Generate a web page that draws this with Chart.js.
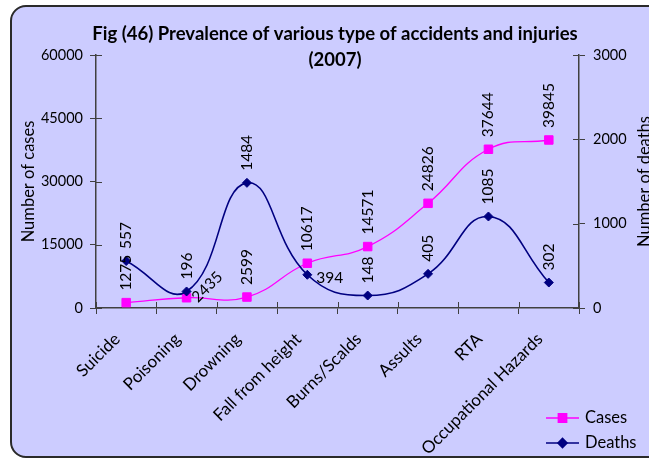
<!DOCTYPE html>
<html>
<head>
<meta charset="utf-8">
<script src="https://cdn.jsdelivr.net/npm/chart.js@4.4.0/dist/chart.umd.min.js"></script>
<style>
  html, body { margin: 0; padding: 0; overflow: hidden; background: #fff; }
  #wrap { position: relative; width: 649px; height: 459px; overflow: hidden; }
  #frame {
    position: absolute; left: 10px; top: 5px; width: 720px; height: 453px;
    box-sizing: border-box; border: 2px solid #2a2a2a; border-radius: 16px;
    background: #ccccff;
  }
  #trendChart { position: absolute; left: 0; top: 0; }
</style>
</head>
<body>
<div id="wrap">
  <div id="frame"></div>
  <canvas id="trendChart" width="649" height="459"></canvas>
</div>
<script>
  const categories = ['Suicide', 'Poisoning', 'Drowning', 'Fall from height', 'Burns/Scalds', 'Assults', 'RTA', 'Occupational Hazards'];
  const cases = [1275, 2435, 2599, 10617, 14571, 24826, 37644, 39845];
  const deaths = [557, 196, 1484, 394, 148, 405, 1085, 302];
  const caseTicks = [0, 15000, 30000, 45000, 60000];
  const deathTicks = [0, 1000, 2000, 3000];

  const FONT = 'Lato, "Open Sans", sans-serif';
  const AXIS = '#404040';

  // label placement per point: rotation in degrees, offset from the marker
  const labelPos = {
    0: [{}, {rot: -45, dx: 8, dy: 2}, {}, {}, {}, {}, {}, {}],
    1: [{}, {}, {}, {rot: 0, dx: 9, dy: 3}, {}, {}, {}, {}]
  };

  const decor = {
    id: 'decor',
    beforeDatasetsDraw(chart) {
      // Excel style cross ticks: draw the inner half of every tick mark
      const {ctx, chartArea: a} = chart;
      const sx = chart.scales.x, sy = chart.scales.y, sy1 = chart.scales.y1;
      ctx.save();
      ctx.strokeStyle = AXIS;
      ctx.lineWidth = 1;
      ctx.beginPath();
      caseTicks.forEach(v => { const y = Math.round(sy.getPixelForValue(v)) + 0.5; ctx.moveTo(a.left, y); ctx.lineTo(a.left + 6, y); });
      deathTicks.forEach(v => { const y = Math.round(sy1.getPixelForValue(v)) + 0.5; ctx.moveTo(a.right, y); ctx.lineTo(a.right - 6, y); });
      for (let i = 0; i <= categories.length; i++) {
        const x = Math.round(sx.getPixelForValue(i - 0.5)) + 0.5;
        ctx.moveTo(x, a.bottom); ctx.lineTo(x, a.bottom - 6);
      }
      ctx.stroke();
      ctx.restore();
    },
    afterDatasetsDraw(chart) {
      const {ctx} = chart;
      ctx.save();
      ctx.fillStyle = '#000';
      ctx.font = '15.5px ' + FONT;
      ctx.textBaseline = 'middle';
      ctx.textAlign = 'left';
      chart.data.datasets.forEach((ds, di) => {
        chart.getDatasetMeta(di).data.forEach((pt, i) => {
          const p = labelPos[di][i];
          const rot = p.rot === undefined ? -90 : p.rot;
          ctx.save();
          if (rot === -90) {
            ctx.translate(pt.x, pt.y - 12);
          } else {
            ctx.translate(pt.x + p.dx, pt.y + p.dy);
          }
          ctx.rotate(rot * Math.PI / 180);
          ctx.fillText(String(ds.data[i]), 0, 0);
          ctx.restore();
        });
      });
      ctx.restore();
    },
    afterDraw(chart) {
      const {ctx, chartArea: a} = chart;
      ctx.save();
      ctx.fillStyle = '#000';
      ctx.textAlign = 'center';
      ctx.textBaseline = 'middle';
      ctx.font = 'bold 18.5px ' + FONT;
      ctx.fillText('Fig (46) Prevalence of various type of accidents and injuries', 335, 34);
      ctx.fillText('(2007)', 335, 60);

      // axis titles, both reading bottom to top
      ctx.font = '16.5px ' + FONT;
      const midY = (a.top + a.bottom) / 2;
      [['Number of cases', 29], ['Number of deaths', 645]].forEach(([t, x]) => {
        ctx.save();
        ctx.translate(x, midY);
        ctx.rotate(-Math.PI / 2);
        ctx.fillText(t, 0, 0);
        ctx.restore();
      });

      // legend, bottom right
      ctx.textAlign = 'left';
      chart.data.datasets.forEach((ds, i) => {
        const y = 418 + i * 25;
        ctx.strokeStyle = ds.borderColor;
        ctx.lineWidth = ds.borderWidth;
        ctx.beginPath();
        ctx.moveTo(546, y); ctx.lineTo(579, y);
        ctx.stroke();
        Chart.helpers.drawPoint(ctx, {pointStyle: ds.pointStyle, radius: ds.pointRadius, borderWidth: 1}, 562.5, y);
        ctx.fillStyle = ds.pointBackgroundColor;
        ctx.fill();
        ctx.fillStyle = '#000';
        ctx.fillText(ds.label, 585, y);
      });
      ctx.restore();
    }
  };

  const ctx = document.getElementById('trendChart').getContext('2d');

  const tickFont = { family: FONT, size: 14.5 };

  const trendChart = new Chart(ctx, {
    type: 'line',
    data: {
      labels: categories,
      datasets: [{
        label: 'Cases',
        data: cases,
        yAxisID: 'y',
        order: 2,
        borderColor: '#ff00ff',
        borderWidth: 1.3,
        tension: 0.45,
        pointStyle: 'rect',
        pointRadius: 6,
        pointBackgroundColor: '#ff00ff',
        pointBorderColor: '#ff00ff',
        pointBorderWidth: 1
      }, {
        label: 'Deaths',
        data: deaths,
        yAxisID: 'y1',
        order: 1,
        borderColor: '#000080',
        borderWidth: 1.6,
        tension: 0.45,
        pointStyle: 'rectRot',
        pointRadius: 4.5,
        pointBackgroundColor: '#000080',
        pointBorderColor: '#000080',
        pointBorderWidth: 1
      }]
    },
    options: {
      responsive: false,
      animation: false,
      layout: { padding: { top: 55, left: 0, right: 0, bottom: 0 } },
      plugins: {
        legend: { display: false },
        title: { display: false },
        tooltip: { enabled: false }
      },
      scales: {
        x: {
          offset: true,
          afterFit: s => { s.height = 151; },
          grid: { offset: true, drawOnChartArea: false, tickLength: 6, color: AXIS },
          border: { color: AXIS, width: 1.5 },
          ticks: { color: '#000', font: { family: FONT, size: 17 }, minRotation: 45, maxRotation: 45, padding: 15, labelOffset: -9, autoSkip: false }
        },
        y: {
          position: 'left',
          min: 0, max: 60000,
          afterFit: s => { s.width = 96; },
          afterBuildTicks: s => { s.ticks = caseTicks.map(v => ({value: v})); },
          grid: { drawOnChartArea: false, tickLength: 6, color: AXIS },
          border: { color: AXIS, width: 1.5 },
          ticks: { color: '#000', font: tickFont, padding: 7, callback: v => String(v) }
        },
        y1: {
          position: 'right',
          min: 0, max: 3000,
          afterFit: s => { s.width = 70; },
          afterBuildTicks: s => { s.ticks = deathTicks.map(v => ({value: v})); },
          grid: { drawOnChartArea: false, tickLength: 6, color: AXIS },
          border: { color: AXIS, width: 1.5 },
          ticks: { color: '#000', font: tickFont, padding: 8, callback: v => String(v) }
        }
      }
    },
    plugins: [decor]
  });
</script>
</body>
</html>
